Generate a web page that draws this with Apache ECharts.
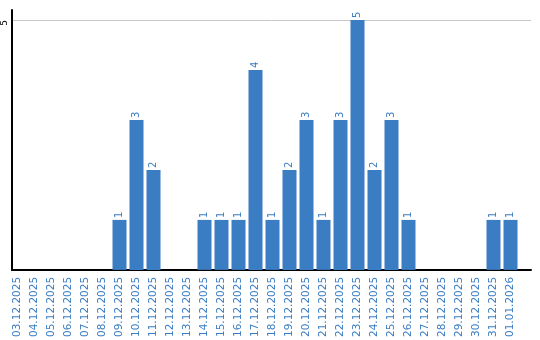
<!DOCTYPE html>
<html><head><meta charset="utf-8">
<script src="https://cdn.jsdelivr.net/npm/echarts@6/dist/echarts.min.js"></script>
<style>html,body{margin:0;padding:0;background:#fff}#c{width:540px;height:340px}</style>
</head><body><div id="c"></div>
<script>
const categories = ['03.12.2025','04.12.2025','05.12.2025','06.12.2025','07.12.2025','08.12.2025','09.12.2025','10.12.2025','11.12.2025','12.12.2025','13.12.2025','14.12.2025','15.12.2025','16.12.2025','17.12.2025','18.12.2025','19.12.2025','20.12.2025','21.12.2025','22.12.2025','23.12.2025','24.12.2025','25.12.2025','26.12.2025','27.12.2025','28.12.2025','29.12.2025','30.12.2025','31.12.2025','01.01.2026'];
const values = [0,0,0,0,0,0,1,3,2,0,0,1,1,1,4,1,2,3,1,3,5,2,3,1,0,0,0,0,1,1];
const yTicks = [5];

const BLUE = '#3b7dc3';
const chart = echarts.init(document.getElementById('c'), null, {renderer:'canvas'});
chart.setOption({
  animation: false,
  textStyle: {fontFamily: 'DejaVu Sans'},
  grid: [
    {left: 9, width: 510, top: 10, bottom: 70, containLabel: false},
    {left: 10, right: 9, top: 10, bottom: 70, containLabel: false}
  ],
  xAxis: [
    {gridIndex: 0, type: 'category', data: categories, boundaryGap: true,
     axisLine: {show: false}, axisTick: {show: false},
     axisLabel: {rotate: 90, interval: 0, margin: 7, fontSize: 10.5, color: BLUE, fontFamily: 'DejaVu Sans'}},
    {gridIndex: 1, type: 'value', min: 0, max: 1,
     axisLine: {show: true, onZero: false, lineStyle: {color: '#000', width: 2}},
     axisTick: {show: false}, axisLabel: {show: false}, splitLine: {show: false}}
  ],
  yAxis: [
    {gridIndex: 0, type: 'value', min: 0, max: 5.2, show: false},
    {gridIndex: 1, type: 'value', min: 0, max: 5.2, interval: 5,
     axisLine: {show: true, lineStyle: {color: '#000', width: 2}},
     axisTick: {show: false},
     axisLabel: {rotate: 90, align: 'right', margin: 3, fontSize: 9, color: '#000', showMinLabel: false, showMaxLabel: false,
       formatter: v => yTicks.includes(v) ? String(v) : ''},
     splitLine: {show: true, showMinLine: false, showMaxLine: false, lineStyle: {color: '#c8c8c8', width: 1}}}
  ],
  series: [{
    type: 'bar', xAxisIndex: 0, yAxisIndex: 0,
    data: values.map(v => v === 0 ? {value: v, label: {show: false}} : v),
    barWidth: 14,
    itemStyle: {color: BLUE},
    label: {show: true, position: 'top', rotate: 90, align: 'left', verticalAlign: 'middle', distance: 2,
      fontSize: 10, color: BLUE, fontFamily: 'DejaVu Sans'}
  }]
});
</script></body></html>
